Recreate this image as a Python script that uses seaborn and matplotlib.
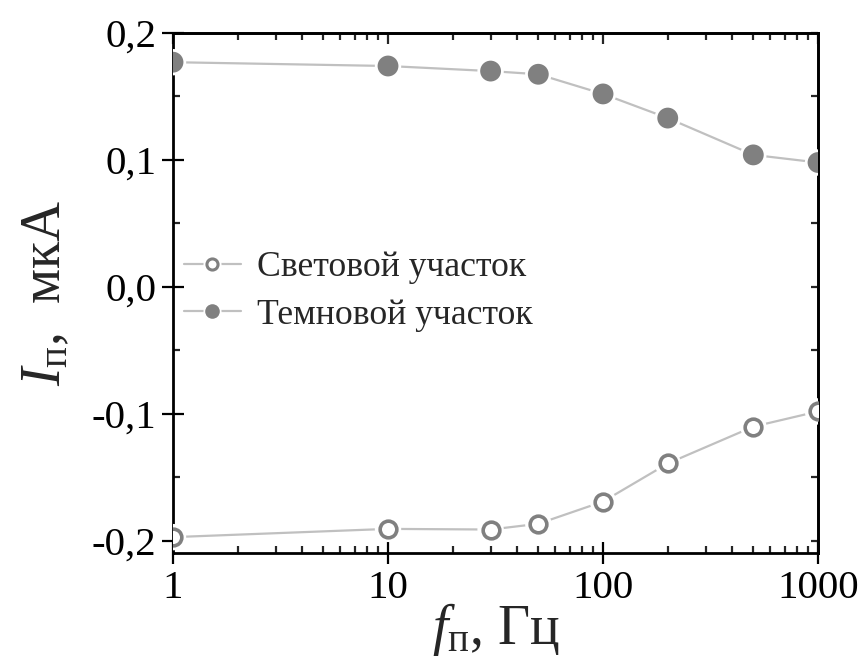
import numpy as np
import pandas as pd
import matplotlib
matplotlib.use("Agg")
import matplotlib.pyplot as plt
import seaborn as sns
from matplotlib.lines import Line2D
from matplotlib.ticker import FixedLocator, FixedFormatter, NullFormatter, LogLocator

freq = [1, 10, 30, 50, 100, 200, 500, 1000]
light = [-0.197, -0.1905, -0.191, -0.1865, -0.169, -0.139, -0.110, -0.098]
dark = [0.177, 0.174, 0.170, 0.1675, 0.152, 0.133, 0.104, 0.098]
series_names = ["Световой участок", "Темновой участок"]
yticks = [-0.2, -0.1, 0.0, 0.1, 0.2]
yticklabels = ["-0,2", "-0,1", "0,0", "0,1", "0,2"]
xticks = [1, 10, 100, 1000]
xticklabels = ["1", "10", "100", "1000"]

sns.set_theme(style="ticks")
plt.rcParams["font.family"] = ["Liberation Serif", "DejaVu Serif"]
plt.rcParams["mathtext.fontset"] = "custom"
plt.rcParams["mathtext.rm"] = "Liberation Serif"
plt.rcParams["mathtext.it"] = "Liberation Serif:italic"

marker_gray = "#808080"
line_gray = "#c0c0c0"

df = pd.DataFrame({
    "f": freq * 2,
    "I": light + dark,
    "series": [series_names[0]] * len(freq) + [series_names[1]] * len(freq),
})

fig = plt.figure(figsize=(8.65, 6.65), dpi=100)
ax = fig.add_axes([0.2, 0.1684, 0.7457, 0.782])

sns.lineplot(data=df, x="f", y="I", hue="series", palette=[line_gray, line_gray],
             legend=False, lw=1.6, ax=ax, zorder=2)
# white halos to create gaps between line and markers
sns.scatterplot(data=df, x="f", y="I", s=19**2, color="white", edgecolor="none",
                legend=False, ax=ax, zorder=3)
dl = df[df.series == series_names[0]]
dd = df[df.series == series_names[1]]
sns.scatterplot(data=dl, x="f", y="I", s=12**2, facecolor="white", edgecolor=marker_gray,
                linewidth=2.6, legend=False, ax=ax, zorder=4)
sns.scatterplot(data=dd, x="f", y="I", s=15**2, color=marker_gray, edgecolor="none",
                legend=False, ax=ax, zorder=4)

ax.set_xscale("log")
ax.set_xlim(1, 1000)
ax.set_ylim(-0.2095, 0.2)

ax.xaxis.set_major_locator(FixedLocator(xticks))
ax.xaxis.set_major_formatter(FixedFormatter(xticklabels))
ax.xaxis.set_minor_locator(LogLocator(base=10, subs=np.arange(2, 10)))
ax.xaxis.set_minor_formatter(NullFormatter())
ax.yaxis.set_major_locator(FixedLocator(yticks))
ax.yaxis.set_major_formatter(FixedFormatter(yticklabels))
ax.yaxis.set_minor_locator(FixedLocator([-0.15, -0.05, 0.05, 0.15]))

for s in ax.spines.values():
    s.set_linewidth(2.0)
    s.set_color("black")

ax.tick_params(which="major", direction="inout", length=16, width=1.6, labelsize=29.5,
               pad=4, colors="black", top=False, right=False)
ax.tick_params(which="minor", direction="in", length=5, width=1.6, top=False, right=False)

# top / right ticks (inward only, no labels)
secx = ax.secondary_xaxis("top")
secx.xaxis.set_major_locator(FixedLocator(xticks))
secx.xaxis.set_minor_locator(LogLocator(base=10, subs=np.arange(2, 10)))
secx.xaxis.set_major_formatter(NullFormatter())
secx.xaxis.set_minor_formatter(NullFormatter())
secx.tick_params(which="major", direction="in", length=8, width=1.6)
secx.tick_params(which="minor", direction="in", length=5, width=1.6)
secx.spines["top"].set_linewidth(2.0)
secy = ax.secondary_yaxis("right")
secy.yaxis.set_major_locator(FixedLocator(yticks))
secy.yaxis.set_minor_locator(FixedLocator([-0.15, -0.05, 0.05, 0.15]))
secy.yaxis.set_major_formatter(NullFormatter())
secy.tick_params(which="major", direction="in", length=5, width=1.6)
secy.tick_params(which="minor", direction="in", length=5, width=1.6)
secy.spines["right"].set_linewidth(2.0)

ax.set_xlabel(r"$f_{\mathrm{п}}$, Гц", fontsize=40, labelpad=-4)
ax.set_ylabel(r"$I_{\mathrm{п}}$,  мкА", fontsize=40, labelpad=14)

def handle(filled):
    ln = Line2D([], [], color=line_gray, lw=1.6)
    halo = Line2D([], [], ls="", marker="o", ms=13, mfc="white", mec="none")
    if filled:
        mk = Line2D([], [], ls="", marker="o", ms=10.5, mfc=marker_gray, mec="none")
    else:
        mk = Line2D([], [], ls="", marker="o", ms=8, mfc="white", mec=marker_gray, mew=2.2)
    return (ln, halo, mk)

ax.legend([handle(False), handle(True)], series_names, loc="center left",
          bbox_to_anchor=(0.0, 0.503), frameon=False, fontsize=25.7, borderpad=0,
          borderaxespad=0.3, handlelength=1.6, handletextpad=0.45, labelspacing=0.4)

fig.savefig("out.png", dpi=100)
